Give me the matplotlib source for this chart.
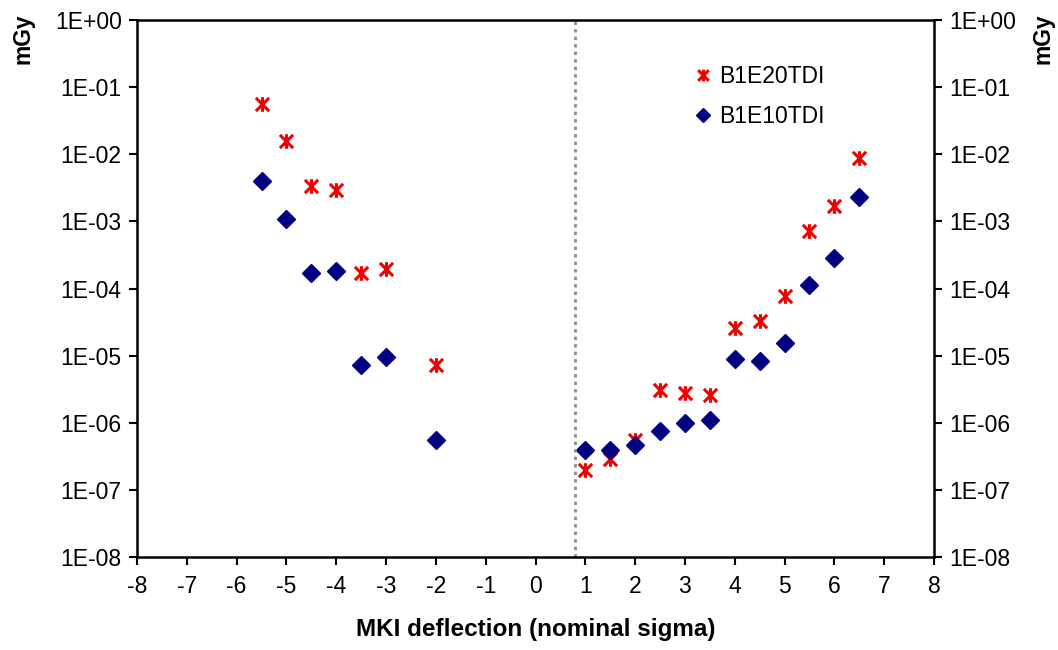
import matplotlib
matplotlib.use("Agg")
from matplotlib import pyplot as plt
from matplotlib.path import Path
from matplotlib.ticker import FixedLocator, NullLocator

plt.rcParams['font.family'] = ['Liberation Sans', 'DejaVu Sans']
plt.rcParams['axes.unicode_minus'] = False

# данные
x_20 = [-5.5, -5, -4.5, -4, -3.5, -3, -2, 1, 1.5, 2, 2.5, 3, 3.5, 4, 4.5, 5, 5.5, 6, 6.5]
y_20 = [5.6e-2, 1.6e-2, 3.4e-3, 2.9e-3, 1.7e-4, 1.95e-4, 7.2e-6, 2.0e-7, 2.9e-7, 5.5e-7,
        3.1e-6, 2.8e-6, 2.6e-6, 2.6e-5, 3.3e-5, 7.7e-5, 7.2e-4, 1.7e-3, 8.8e-3]

x_10 = [-5.5, -5, -4.5, -4, -3.5, -3, -2, 1, 1.5, 2, 2.5, 3, 3.5, 4, 4.5, 5, 5.5, 6, 6.5]
y_10 = [4.0e-3, 1.08e-3, 1.7e-4, 1.8e-4, 7.2e-6, 9.7e-6, 5.6e-7, 4.0e-7, 4.0e-7, 4.7e-7,
        7.5e-7, 1.0e-6, 1.1e-6, 9.0e-6, 8.3e-6, 1.55e-5, 1.15e-4, 2.85e-4, 2.3e-3]

x_ticks = list(range(-8, 9))
y_ticks = [1e0, 1e-1, 1e-2, 1e-3, 1e-4, 1e-5, 1e-6, 1e-7, 1e-8]
y_labels = ['1E+00', '1E-01', '1E-02', '1E-03', '1E-04', '1E-05', '1E-06', '1E-07', '1E-08']
dotted_x = 0.8

# звёздочка как в Excel: крест + вертикальная черта
star = Path([(-1, -1), (1, 1), (-1, 1), (1, -1), (0, -1.1), (0, 1.1)],
            [Path.MOVETO, Path.LINETO, Path.MOVETO, Path.LINETO, Path.MOVETO, Path.LINETO])

fig = plt.figure(figsize=(10.58, 6.5), dpi=100)
ax = fig.add_axes([0.1295, 0.143, 0.7533, 0.826])

ax.plot(x_20, y_20, linestyle='none', marker=star, markersize=10.5,
        markeredgewidth=2.2, color='#f00000', markeredgecolor='#f00000', label='B1E20TDI')
ax.plot(x_10, y_10, linestyle='none', marker='D', markersize=9.5,
        color='#000080', markeredgecolor='#000080', label='B1E10TDI')

ax.axvline(dotted_x, color='#8c8c8c', linestyle=(0, (1.2, 1.5)), linewidth=2)

ax.set_yscale('log')
ax.set_xlim(-8, 8)
ax.set_ylim(1e-8, 1)
ax.xaxis.set_major_locator(FixedLocator(x_ticks))
ax.yaxis.set_major_locator(FixedLocator(y_ticks))
ax.yaxis.set_minor_locator(NullLocator())
ax.set_yticklabels(y_labels)
ax.tick_params(axis='both', direction='out', length=6, width=1.5, labelsize=16.5, pad=5)
ax.tick_params(axis='x', pad=7)
ax.tick_params(axis='y', which='both', left=True, right=True, labelleft=True, labelright=True)
for s in ax.spines.values():
    s.set_linewidth(1.8)

ax.set_xlabel('MKI deflection (nominal sigma)', fontsize=17.5, fontweight='bold', labelpad=14)
fig.text(0.022, 0.94, 'mGy', rotation=90, fontsize=16.5, fontweight='bold', ha='center', va='center')
fig.text(0.986, 0.94, 'mGy', rotation=90, fontsize=16.5, fontweight='bold', ha='center', va='center')

ax.legend(loc='upper left', bbox_to_anchor=(0.667, 0.955), frameon=False, fontsize=16.5,
          handletextpad=0.1, labelspacing=0.75, handlelength=1.2, markerscale=0.8)

fig.savefig('out.png', dpi=100)
